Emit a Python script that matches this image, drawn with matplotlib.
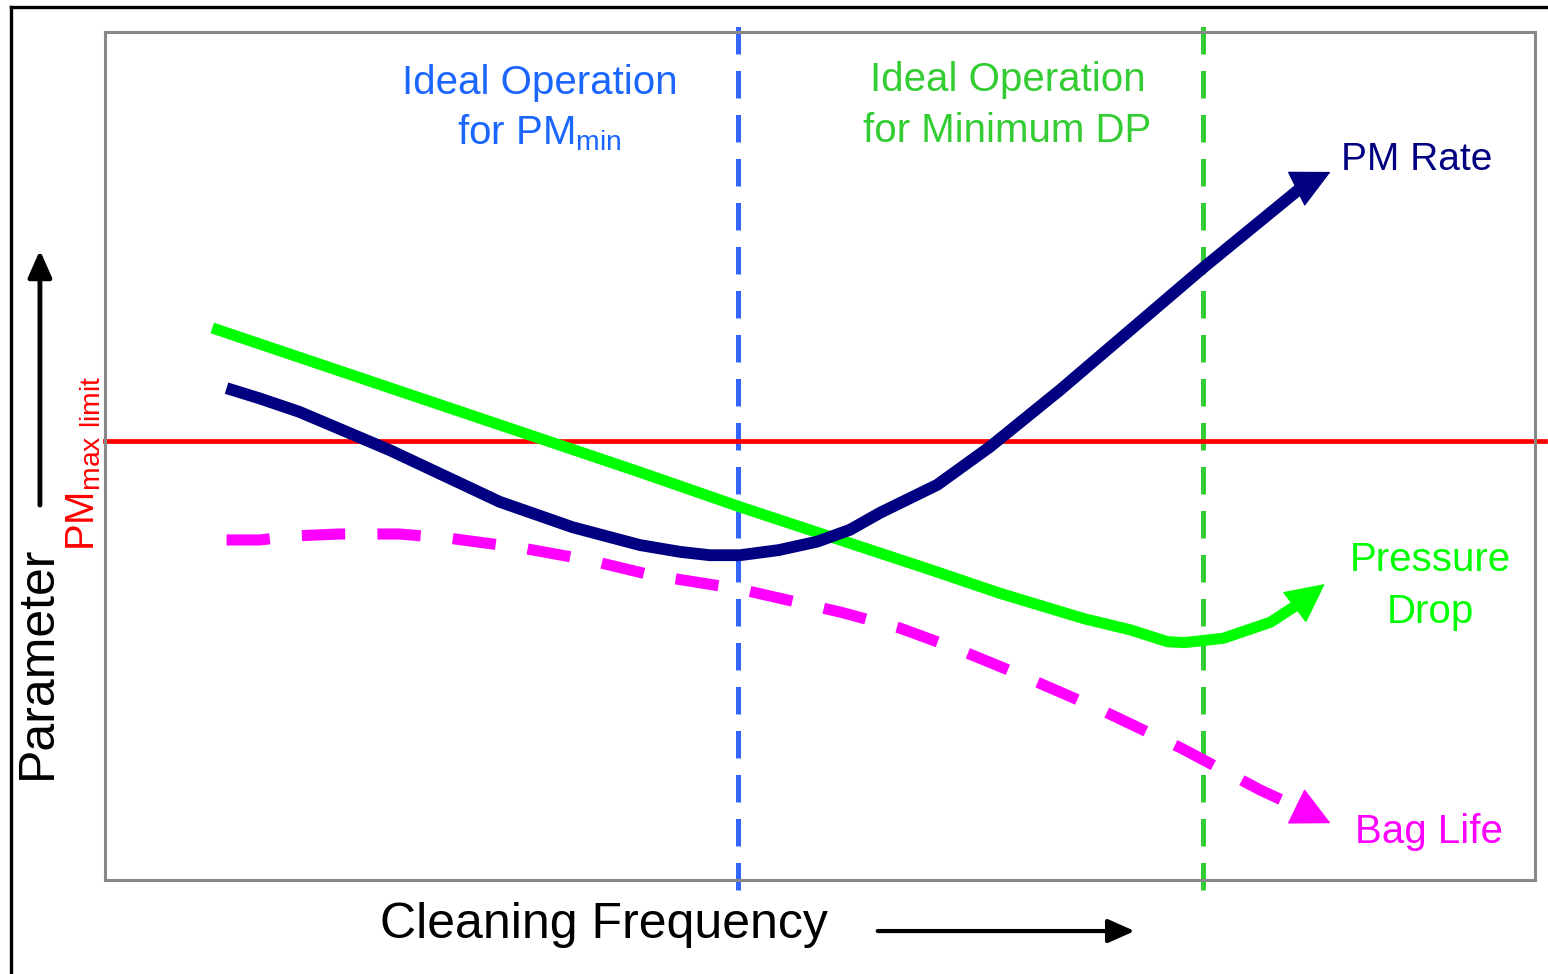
import matplotlib.pyplot as plt
from matplotlib.lines import Line2D
from matplotlib.patches import FancyArrowPatch

# values on a 0-100 scale inside the plot box (x: cleaning frequency, y: parameter)
pd_x = [7.5, 37.4, 44.4, 57.7, 62.6, 68.5, 71.7, 74.3, 75.5, 78.2, 81.5, 83.6]
pd_y = [65.1, 48.1, 44.0, 36.6, 33.8, 30.8, 29.5, 28.1, 28.0, 28.5, 30.4, 32.7]
pd_tip = (85.3, 34.9)

pm_x = [8.5, 10.8, 13.6, 19.9, 27.6, 32.7, 37.4, 40.2, 42.3, 44.4, 47.1, 49.8,
        52.1, 54.2, 58.2, 61.9, 66.8, 76.8, 83.9]
pm_y = [58.0, 56.8, 55.2, 50.7, 44.6, 41.6, 39.5, 38.7, 38.3, 38.3, 38.9, 39.9,
        41.3, 43.3, 46.6, 51.1, 57.8, 72.2, 82.0]
pm_tip = (85.7, 83.5)

bag_x = [8.5, 10.8, 13.6, 16.4, 20.6, 24.1, 29.0, 33.9, 38.1, 44.4, 51.4, 55.6,
         59.8, 64.0, 69.6, 75.2, 80.8, 84.0]
bag_y = [40.1, 40.1, 40.6, 40.8, 40.8, 40.3, 39.2, 37.7, 36.0, 34.3, 31.6, 29.7,
         27.1, 24.2, 20.1, 15.6, 10.6, 8.1]
bag_tip = (85.7, 6.7)

pm_limit = 51.8
x_pm_min = 44.3
x_dp_min = 76.8

NAVY = '#000080'
GREEN = '#00ff00'
MAGENTA = '#ff00ff'

plt.rcParams['font.family'] = ['Liberation Sans', 'DejaVu Sans']
plt.rcParams['mathtext.fontset'] = 'custom'
plt.rcParams['mathtext.rm'] = 'Liberation Sans'

fig = plt.figure(figsize=(15.48, 9.74), dpi=100)
ax = fig.add_axes([105 / 1548, 94 / 974, 1430 / 1548, 848 / 974])
ax.set_xlim(0, 100)
ax.set_ylim(0, 100)
ax.set_xticks([])
ax.set_yticks([])
for s in ax.spines.values():
    s.set_color('#888888')
    s.set_linewidth(2.2)


def arrow_head(ax, start, tip, color):
    ax.annotate('', xy=tip, xytext=start,
                arrowprops=dict(arrowstyle='-|>,head_length=1.0,head_width=0.5',
                                mutation_scale=26, color=color, lw=1,
                                shrinkA=0, shrinkB=0))


# reference lines
ax.plot([0, 100.7], [pm_limit, pm_limit], color='#ff0000', lw=3.4, clip_on=False, zorder=2)
ax.plot([x_pm_min, x_pm_min], [-1.2, 100.8], color='#3366ff', lw=3.6,
        dashes=(5.5, 3.3), clip_on=False, zorder=1)
ax.plot([x_dp_min, x_dp_min], [-1.2, 100.8], color='#33cc33', lw=3.6,
        dashes=(5.5, 3.3), clip_on=False, zorder=1)

# curves
ax.plot(pd_x, pd_y, color=GREEN, lw=8, solid_capstyle='butt', zorder=3)
arrow_head(ax, (pd_x[-1], pd_y[-1]), pd_tip, GREEN)

ax.plot(bag_x, bag_y, color=MAGENTA, lw=8, dashes=(3.9, 2.9), zorder=3)
arrow_head(ax, (bag_x[-1], bag_y[-1]), bag_tip, MAGENTA)

ax.plot(pm_x, pm_y, color=NAVY, lw=8.5, solid_capstyle='butt', zorder=4)
arrow_head(ax, (pm_x[-1], pm_y[-1]), pm_tip, NAVY)

# labels on the plot
ax.text(30.4, 94.0, 'Ideal Operation', color='#1a66ff', fontsize=29, ha='center', va='center')
ax.text(30.4, 88.1, r'for PM$_{\mathdefault{min}}$', color='#1a66ff', fontsize=29,
        ha='center', va='center')
ax.text(63.1, 94.3, 'Ideal Operation', color='#33cc33', fontsize=29, ha='center', va='center')
ax.text(63.1, 88.3, 'for Minimum DP', color='#33cc33', fontsize=29, ha='center', va='center')
ax.text(86.4, 84.9, 'PM Rate', color=NAVY, fontsize=28, ha='left', va='center')
ax.text(92.7, 37.7, 'Pressure', color=GREEN, fontsize=29, ha='center', va='center')
ax.text(92.7, 31.6, 'Drop', color=GREEN, fontsize=29, ha='center', va='center')
ax.text(87.4, 5.7, 'Bag Life', color=MAGENTA, fontsize=29, ha='left', va='center')

# axis titles and arrows outside the box
fig.text(0.0245, 0.320, 'Parameter', fontsize=36, rotation=90, ha='center', va='center')
fig.text(0.054, 0.524, r'PM$_{\mathdefault{max\ limit}}$', color='#ff0000', fontsize=29,
         rotation=90, ha='center', va='center')
fig.text(0.390, 0.050, 'Cleaning Frequency', fontsize=36, ha='center', va='center')

fig.add_artist(FancyArrowPatch(
    (0.0258, 0.4815), (0.0258, 0.743), transform=fig.transFigure,
    arrowstyle='-|>,head_length=0.9,head_width=0.4', mutation_scale=18,
    color='black', lw=3.5, shrinkA=0, shrinkB=0))
fig.add_artist(FancyArrowPatch(
    (0.567, 0.0441), (0.733, 0.0441), transform=fig.transFigure,
    arrowstyle='-|>,head_length=0.9,head_width=0.4', mutation_scale=18,
    color='black', lw=3.0, shrinkA=0, shrinkB=0))

# slide frame
fig.add_artist(Line2D([11 / 1548, 1.0], [1 - 7 / 974, 1 - 7 / 974], color='black', lw=2.4))
fig.add_artist(Line2D([11 / 1548, 11 / 1548], [0, 1 - 7 / 974], color='black', lw=2.4))

fig.savefig('out.png', dpi=100)
